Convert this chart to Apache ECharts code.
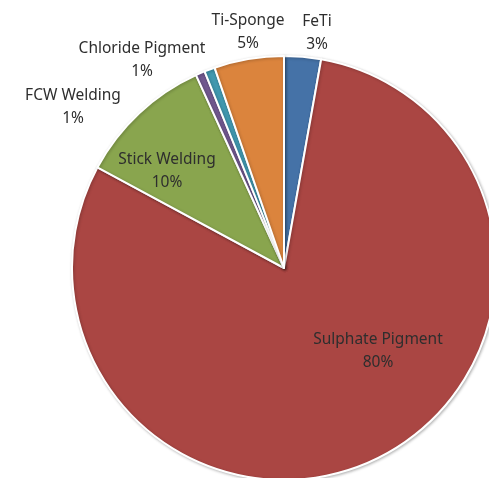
<!DOCTYPE html>
<html>
<head>
<meta charset="utf-8">
<script src="https://cdn.jsdelivr.net/npm/echarts@6/dist/echarts.min.js"></script>
<style>
html, body { margin: 0; padding: 0; background: #fff; }
#chart { width: 489px; height: 478px; }
</style>
</head>
<body>
<div id="chart"></div>
<script>
// slice order is clockwise from 12 o'clock, like the original
var categories = ['FeTi', 'Sulphate Pigment', 'Stick Welding', 'FCW Welding', 'Chloride Pigment', 'Ti-Sponge'];
var shares = [2.8, 79.9, 10.3, 0.7, 0.8, 5.3];
var colors = ['#4572A7', '#AA4643', '#89A54E', '#71588F', '#4198AF', '#DB843D'];
// where each label block sits (centre of text)
var labelPos = [[317, 33], [378, 351], [167, 171], [73, 107], [142, 60], [248, 32]];

var myChart = echarts.init(document.getElementById('chart'));

var data = [];
for (var i = 0; i < categories.length; i++) {
	data.push({
		name: categories[i],
		value: shares[i],
		itemStyle: { color: colors[i] }
	});
}

var option = {
	backgroundColor: '#fff',
	animation: false,
	series: [{
		type: 'pie',
		center: [284, 268],
		radius: 212,
		startAngle: 90,
		clockwise: true,
		avoidLabelOverlap: false,
		itemStyle: {
			borderColor: '#fff',
			borderWidth: 2,
			shadowBlur: 3,
			shadowColor: 'rgba(0,0,0,0.25)',
			shadowOffsetX: 1,
			shadowOffsetY: 1
		},
		label: {
			show: true,
			position: 'inside',
			fontFamily: 'Noto Sans',
			fontSize: 15.5,
			lineHeight: 23,
			color: '#2e2e2e',
			align: 'center',
			formatter: function (p) {
				return p.name + '\n' + Math.round(p.percent) + '%';
			}
		},
		labelLine: { show: false },
		emphasis: { disabled: true },
		labelLayout: function (p) {
			var pos = labelPos[p.dataIndex];
			return {
				x: pos[0],
				y: pos[1],
				align: 'center',
				verticalAlign: 'middle'
			};
		},
		data: data
	}]
};
myChart.setOption(option);
</script>
</body>
</html>
